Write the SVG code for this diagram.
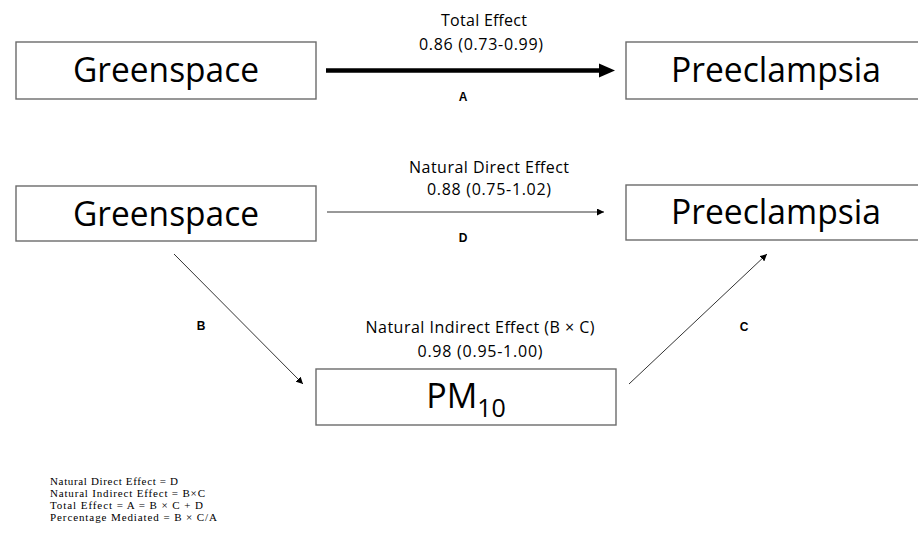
<svg xmlns="http://www.w3.org/2000/svg" width="918" height="533" viewBox="0 0 918 533">
<style>
.box{fill:#fff;stroke:#6b6b6b;stroke-width:1.4}
.big{font-family:"Open Sans","Noto Sans",sans-serif;font-size:34px;fill:#000;text-anchor:middle}
.lab{font-family:"Open Sans","Noto Sans",sans-serif;font-size:16px;fill:#000;text-anchor:middle}
.let{font-family:"Liberation Sans",Arial,sans-serif;font-size:12px;font-weight:bold;fill:#000;text-anchor:middle}
.note{font-family:"Liberation Serif","Times New Roman",serif;font-size:11px;fill:#000}
.thin{stroke:#333;stroke-width:1;fill:none}
</style>
<defs>
<marker id="ah" viewBox="0 0 10 10" refX="10" refY="5" markerWidth="7" markerHeight="7" markerUnits="userSpaceOnUse" orient="auto">
<path d="M0,0 L10,5 L0,10 z" fill="#000"/>
</marker>
</defs>
<rect width="918" height="533" fill="#fff"/>
<g id="greenspace1"><rect class="box" x="16" y="42" width="300" height="57"/><text class="big" x="166" y="82" textLength="186" lengthAdjust="spacingAndGlyphs">Greenspace</text></g>
<g id="preeclampsia1"><rect class="box" x="626" y="42" width="300" height="57"/><text class="big" x="776" y="82" textLength="210" lengthAdjust="spacingAndGlyphs">Preeclampsia</text></g>
<g id="greenspace2"><rect class="box" x="16" y="186" width="300" height="55"/><text class="big" x="166" y="226" textLength="186" lengthAdjust="spacingAndGlyphs">Greenspace</text></g>
<g id="preeclampsia2"><rect class="box" x="626" y="185" width="300" height="55"/><text class="big" x="776" y="224" textLength="210" lengthAdjust="spacingAndGlyphs">Preeclampsia</text></g>
<g id="pm10"><rect class="box" x="316" y="369" width="300" height="56"/><text class="big" x="466" y="408" font-size="36">PM<tspan font-size="25" dy="9">10</tspan></text></g>
<g id="connectors">
<line x1="326" y1="70.5" x2="601" y2="70.5" stroke="#000" stroke-width="4.5"/>
<path d="M599,63.5 L615,70.5 L599,77.5 z" fill="#000"/>
<line class="thin" x1="327" y1="212" x2="604" y2="212" marker-end="url(#ah)"/>
<line class="thin" x1="174" y1="254" x2="303" y2="384" marker-end="url(#ah)"/>
<line class="thin" x1="629" y1="384" x2="767" y2="254" marker-end="url(#ah)"/>
</g>
<g id="labels">
<text class="lab" x="484" y="26" textLength="86">Total Effect</text>
<text class="lab" x="481" y="50" textLength="124">0.86 (0.73-0.99)</text>
<text class="let" x="463" y="101">A</text>
<text class="lab" x="489" y="173" textLength="160">Natural Direct Effect</text>
<text class="lab" x="489" y="195" textLength="124">0.88 (0.75-1.02)</text>
<text class="let" x="463" y="242">D</text>
<text class="lab" x="480" y="333" textLength="229">Natural Indirect Effect (B × C)</text>
<text class="lab" x="480" y="357" textLength="125">0.98 (0.95-1.00)</text>
<text class="let" x="201" y="330">B</text>
<text class="let" x="744" y="331">C</text>
</g>
<g id="notes">
<text class="note" x="50" y="485" textLength="128">Natural Direct Effect = D</text>
<text class="note" x="50" y="497" textLength="155">Natural Indirect Effect =  B×C</text>
<text class="note" x="50" y="509" textLength="153">Total Effect = A = B × C + D</text>
<text class="note" x="50" y="521" textLength="167">Percentage Mediated = B × C/A</text>
</g>
</svg>
